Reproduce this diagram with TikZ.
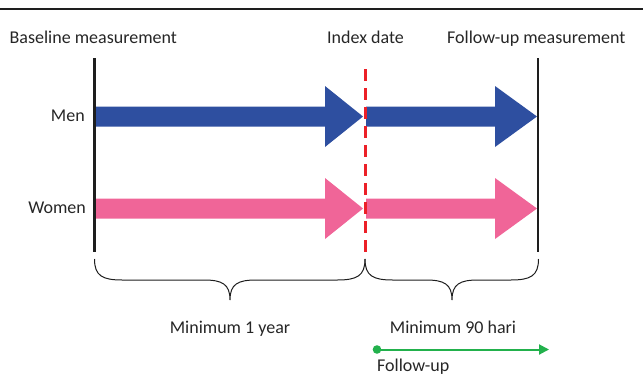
\documentclass[tikz,border=0pt]{standalone}
\usepackage{fontspec}
\setmainfont{Carlito}
\usetikzlibrary{arrows.meta}
\definecolor{menblue}{RGB}{46,79,160}
\definecolor{womenpink}{RGB}{240,101,152}
\definecolor{idxred}{RGB}{236,32,40}
\definecolor{fugreen}{RGB}{34,177,76}
\definecolor{txtgray}{RGB}{38,38,38}
\definecolor{rulegray}{RGB}{30,30,30}
\newcommand\fatarrow[5]{%
  \begin{scope}[shift={(0,#1)}]
    \fill[#5] (#2,-10) -- (#3,-10) -- (#3,-30.5) -- (#4,0) -- (#3,30.5) -- (#3,10) -- (#2,10) -- cycle;
  \end{scope}}
\newcommand\curlybrace[3]{% x0 xmid x1
  \draw[bracepath] (#1,259) .. controls (#1,276) and (#1+8,280) .. (#1+28,280)
    -- (#2-26,280) .. controls (#2-8,280) and (#2,284) .. (#2,300)
    .. controls (#2,284) and (#2+8,280) .. (#2+26,280)
    -- (#3-28,280) .. controls (#3-8,280) and (#3,276) .. (#3,259);}
\begin{document}
\begin{tikzpicture}[x=1pt,y=-1pt,
  lbl/.style={font=\fontsize{18}{20}\selectfont, text=txtgray, inner sep=0pt},
  vline/.style={draw=rulegray, line width=2.5pt},
  idxline/.style={draw=idxred, line width=3pt, dash pattern=on 12pt off 7pt},
  bracepath/.style={draw=rulegray, line width=1pt},
  fuarrow/.style={draw=fugreen, line width=2pt, -{Triangle[length=10pt,width=10pt]}},
]
\useasboundingbox (0,0) rectangle (643,384);
% top rule
\coordinate (TL) at (0,9);
\coordinate (TR) at (643,9);
\draw[draw=rulegray, line width=2.5pt] (TL) -- (TR);
% labels
\node[lbl, anchor=base west] (base) at (9.5,43.5) {Baseline measurement};
\node[lbl, anchor=base] (idx) at (365.5,43.5) {Index date};
\node[lbl, anchor=base west] (fu) at (447,43.5) {Follow-up measurement};
\node[lbl, anchor=base east] (men) at (85,121) {Men};
\node[lbl, anchor=base east] (women) at (86,213) {Women};
\node[lbl, anchor=base] (min1) at (230,333) {Minimum 1 year};
\node[lbl, anchor=base] (min90) at (453,333) {Minimum 90 hari};
\node[lbl, anchor=base west] (fulabel) at (377,371) {Follow-up};
% fat arrows
\fatarrow{116.5}{95}{325}{363}{menblue}
\fatarrow{116.5}{366}{495}{537}{menblue}
\fatarrow{208.5}{95}{325}{363}{womenpink}
\fatarrow{208.5}{366}{495}{537}{womenpink}
% vertical lines
\coordinate (L1) at (94.5,58);
\coordinate (L2) at (94.5,252);
\coordinate (R1) at (538,58);
\coordinate (R2) at (538,252);
\coordinate (I1) at (365,69);
\coordinate (I2) at (365,256);
\draw[vline] (L1) -- (L2);
\draw[vline] (R1) -- (R2);
\draw[idxline] (I1) -- (I2);
% braces
\curlybrace{94.5}{230}{365}
\curlybrace{365}{452}{538.5}
% follow-up arrow
\coordinate (g1) at (377,349.5);
\coordinate (g2) at (549,349.5);
\fill[fugreen] (g1) circle (4.3pt);
\draw[fuarrow] (g1) -- (g2);
\end{tikzpicture}
\end{document}
